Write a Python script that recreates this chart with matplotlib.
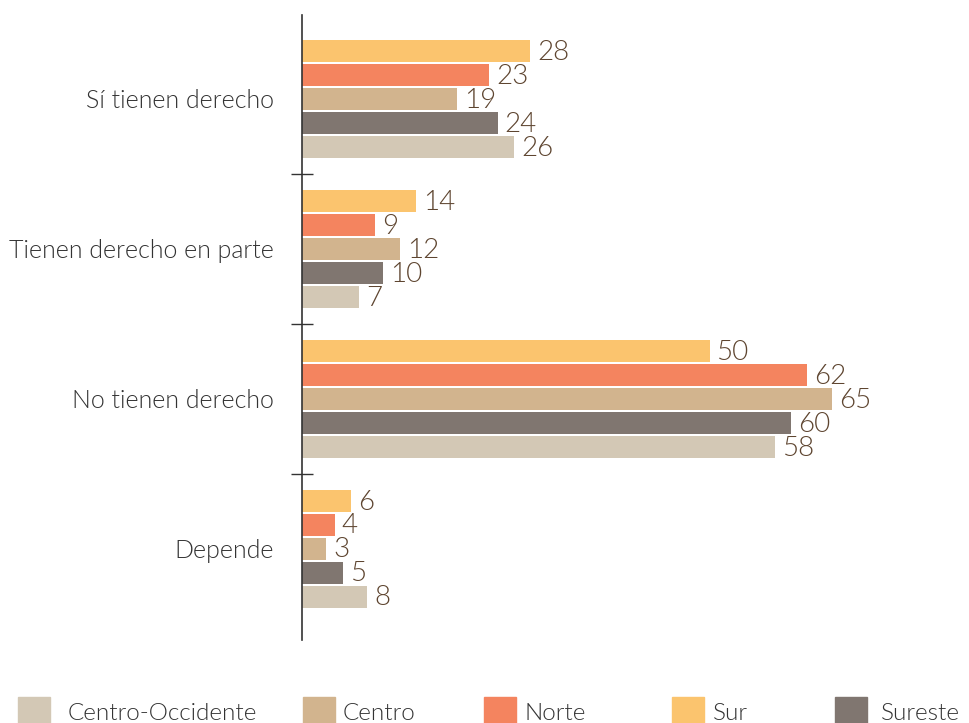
import matplotlib
matplotlib.use("Agg")
import matplotlib.pyplot as plt
from matplotlib.patches import Rectangle
import numpy as np

plt.rcParams["font.family"] = ["Lato", "DejaVu Sans"]
plt.rcParams["font.weight"] = 300

# ----- data -----
categories = ["Sí tienen derecho", "Tienen derecho en parte", "No tienen derecho", "Depende"]
series = ["Sur", "Norte", "Centro", "Sureste", "Centro-Occidente"]
sur = [28, 14, 50, 6]
norte = [23, 9, 62, 4]
centro = [19, 12, 65, 3]
sureste = [24, 10, 60, 5]
centro_occ = [26, 7, 58, 8]

colors = {
    "Sur": "#FBC46E",
    "Norte": "#F4845F",
    "Centro": "#D2B48E",
    "Sureste": "#807670",
    "Centro-Occidente": "#D3C8B5",
}
legend_order = ["Centro-Occidente", "Centro", "Norte", "Sur", "Sureste"]
values = {"Sur": sur, "Norte": norte, "Centro": centro,
          "Sureste": sureste, "Centro-Occidente": centro_occ}

W, H = 970, 723
fig = plt.figure(figsize=(W / 100, H / 100), dpi=100)
ax = fig.add_axes([302 / W, (H - 640) / H, (W - 302) / W, 625 / H])

y = np.arange(len(categories))
step = 0.16
bar_h = 0.147
for i, name in enumerate(series):
    off = (i - 2) * step
    bars = ax.barh(y + off, values[name], height=bar_h, color=colors[name], zorder=2)
    for b, v in zip(bars, values[name]):
        ax.annotate(str(v), (b.get_width(), b.get_y() + b.get_height() / 2),
                    xytext=(5, -1), textcoords="offset points", ha="left", va="center",
                    fontsize=20, color="#5E4530", fontweight=300)

ax.set_xlim(0, (W - 302) / 8.15)
ax.set_ylim(3.61, -0.56)
ax.set_yticks(y)
ax.set_yticklabels(categories, fontsize=18, color="#333333", fontweight=300)
ax.tick_params(axis="y", which="major", length=0, pad=20)
ax.set_yticks([0.5, 1.5, 2.5], minor=True)
ax.tick_params(axis="y", which="minor", direction="inout", length=16, width=1, color="#333333")
ax.set_xticks([])
for s in ["top", "right", "bottom"]:
    ax.spines[s].set_visible(False)
ax.spines["left"].set_color("#333333")
ax.spines["left"].set_linewidth(1.2)

# legend along the bottom
swatch_x = [18, 303, 484, 672, 835]
label_x = [68, 343, 525, 713, 881]
for name, x0, xt in zip(legend_order, swatch_x, label_x):
    fig.patches.append(Rectangle((x0 / W, 0), 32 / W, 26 / H, transform=fig.transFigure,
                                 color=colors[name], figure=fig))
    fig.text(xt / W, 10 / H, name, fontsize=17.5, color="#333333",
             va="center", ha="left", fontweight=300)

fig.savefig("out.png", dpi=100)
